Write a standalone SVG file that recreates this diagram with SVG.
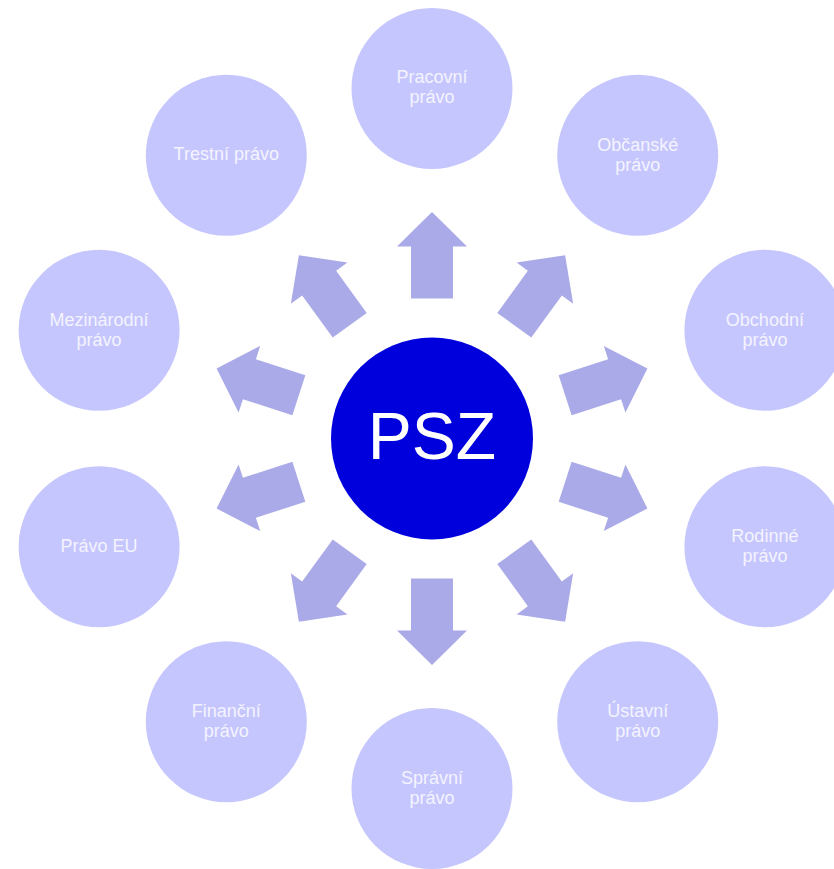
<svg xmlns="http://www.w3.org/2000/svg" width="834" height="869" viewBox="0 0 834 869">
<defs>
<style>
.outer{fill:#C6C6FE;}
.lbl{fill:#F4F4FF;font-family:"Liberation Sans",Arial,sans-serif;font-size:18px;text-anchor:middle;}
.arrow{fill:#AAAAE8;}
.center{fill:#0000DC;}
.psz{fill:#FFFFFF;font-family:"Liberation Sans",Arial,sans-serif;font-size:66px;text-anchor:middle;}
</style>
<polygon id="arr" points="-21,-140 -21,-192 -35,-192 0,-226.5 35,-192 21,-192 21,-140"/>
</defs>
<rect width="834" height="869" fill="#FFFFFF"/>
<g id="connectors" class="arrow" transform="translate(432,438.5)">
<use href="#arr" transform="rotate(0)"/>
<use href="#arr" transform="rotate(36)"/>
<use href="#arr" transform="rotate(72)"/>
<use href="#arr" transform="rotate(108)"/>
<use href="#arr" transform="rotate(144)"/>
<use href="#arr" transform="rotate(180)"/>
<use href="#arr" transform="rotate(216)"/>
<use href="#arr" transform="rotate(252)"/>
<use href="#arr" transform="rotate(288)"/>
<use href="#arr" transform="rotate(324)"/>
</g>
<g id="node-psz">
<circle class="center" cx="432" cy="438.5" r="101"/>
<text class="psz" x="432" y="459">PSZ</text>
</g>
<g id="node-pracovni">
<circle class="outer" cx="432" cy="88.5" r="80.5"/>
<text class="lbl" x="432" y="82.5">Pracovní</text>
<text class="lbl" x="432" y="102.5">právo</text>
</g>
<g id="node-obcanske">
<circle class="outer" cx="637.7" cy="155.3" r="80.5"/>
<text class="lbl" x="637.7" y="150.8">Občanské</text>
<text class="lbl" x="637.7" y="170.8">právo</text>
</g>
<g id="node-obchodni">
<circle class="outer" cx="764.9" cy="330.3" r="80.5"/>
<text class="lbl" x="764.9" y="325.8">Obchodní</text>
<text class="lbl" x="764.9" y="345.8">právo</text>
</g>
<g id="node-rodinne">
<circle class="outer" cx="764.9" cy="546.7" r="80.5"/>
<text class="lbl" x="764.9" y="542.2">Rodinné</text>
<text class="lbl" x="764.9" y="562.2">právo</text>
</g>
<g id="node-ustavni">
<circle class="outer" cx="637.7" cy="721.7" r="80.5"/>
<text class="lbl" x="637.7" y="717.2">Ústavní</text>
<text class="lbl" x="637.7" y="737.2">právo</text>
</g>
<g id="node-spravni">
<circle class="outer" cx="432" cy="788.5" r="80.5"/>
<text class="lbl" x="432" y="784">Správní</text>
<text class="lbl" x="432" y="804">právo</text>
</g>
<g id="node-financni">
<circle class="outer" cx="226.3" cy="721.7" r="80.5"/>
<text class="lbl" x="226.3" y="717.2">Finanční</text>
<text class="lbl" x="226.3" y="737.2">právo</text>
</g>
<g id="node-pravo-eu">
<circle class="outer" cx="99.1" cy="546.7" r="80.5"/>
<text class="lbl" x="99.1" y="552.3">Právo EU</text>
</g>
<g id="node-mezinarodni">
<circle class="outer" cx="99.1" cy="330.3" r="80.5"/>
<text class="lbl" x="99.1" y="325.8">Mezinárodní</text>
<text class="lbl" x="99.1" y="345.8">právo</text>
</g>
<g id="node-trestni">
<circle class="outer" cx="226.3" cy="155.3" r="80.5"/>
<text class="lbl" x="226.3" y="160">Trestní právo</text>
</g>
</svg>
